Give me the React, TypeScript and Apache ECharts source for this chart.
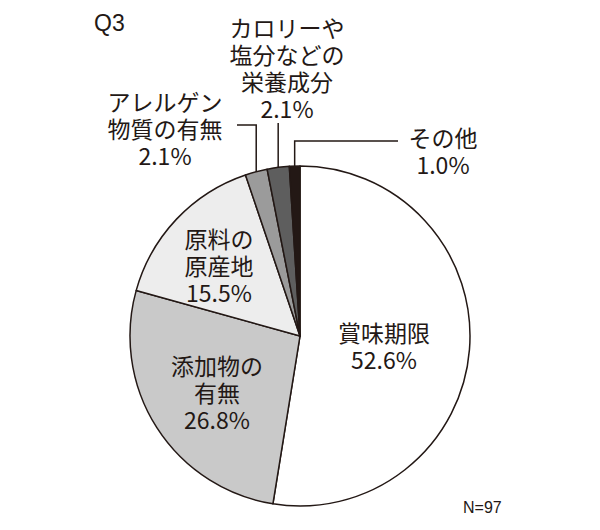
import React, { useEffect, useRef } from "react";
import * as echarts from "echarts";

const categories = [
  "賞味期限\n52.6%",
  "添加物の\n有無\n26.8%",
  "原料の\n原産地\n15.5%",
  "アレルゲン\n物質の有無\n2.1%",
  "カロリーや\n塩分などの\n栄養成分\n2.1%",
  "その他\n1.0%",
];
const values = [52.6, 26.8, 15.5, 2.1, 2.1, 1.0];
const colors = ["#ffffff", "#c9c9c9", "#ededed", "#9b9b9b", "#5e5e5e", "#231815"];

// label anchor positions (centre of text block) and leader line shapes
const labelPos: [number, number][] = [
  [384, 345],
  [217, 392],
  [219, 265],
  [165, 128],
  [287, 67],
  [443, 150],
];
// leader lines: null = none; otherwise [elbowY, endX|null]
const leader: ([number, number | null] | null)[] = [
  null,
  null,
  null,
  [125, 237],
  [123, null],
  [141, 398],
];

export default function App() {
  const ref = useRef<HTMLDivElement>(null);
  useEffect(() => {
    document.body.style.margin = "0";
    const chart = echarts.init(ref.current!, null, { renderer: "svg" });
    const ink = "#231815";
    chart.setOption({
      animation: false,
      backgroundColor: "#ffffff",
      graphic: [
        {
          type: "text",
          left: 94,
          top: 11,
          style: { text: "Q3", fontSize: 23, fill: ink, fontFamily: "Liberation Sans, Arial, sans-serif" },
        },
        {
          type: "text",
          left: 463,
          top: 499,
          style: { text: "N=97", fontSize: 16, fill: ink, fontFamily: "Liberation Sans, Arial, sans-serif" },
        },
      ],
      series: [
        {
          type: "pie",
          center: [300, 336],
          radius: [0, 170],
          startAngle: 90,
          clockwise: true,
          avoidLabelOverlap: false,
          itemStyle: { borderColor: ink, borderWidth: 1.5 },
          label: {
            show: true,
            position: "outside",
            formatter: (p: any) => categories[p.dataIndex],
            fontSize: 23,
            lineHeight: 27,
            color: ink,
            align: "center",
            fontFamily: "Noto Sans CJK JP, sans-serif",
          },
          labelLine: {
            show: true,
            length: 10,
            length2: 10,
            lineStyle: { color: ink, width: 1.5 },
          },
          labelLayout: (params: any) => {
            const i = params.dataIndex;
            const [x, y] = labelPos[i];
            const out: any = { x, y, align: "center", verticalAlign: "middle" };
            const l = leader[i];
            const pts = params.labelLinePoints;
            if (l && pts && pts[0]) {
              const p0 = pts[0];
              const linePts: number[][] = [[p0[0], p0[1]], [p0[0], l[0]]];
              if (l[1] !== null) linePts.push([l[1], l[0]]);
              out.labelLinePoints = linePts;
            } else {
              out.labelLinePoints = pts && pts[0] ? [pts[0], pts[0]] : undefined;
            }
            return out;
          },
          data: values.map((v, i) => ({
            name: categories[i],
            value: v,
            itemStyle: { color: colors[i] },
            labelLine: { show: leader[i] !== null },
          })),
        },
      ],
    });
    return () => chart.dispose();
  }, []);
  return <div ref={ref} style={{ width: 600, height: 530 }} />;
}
